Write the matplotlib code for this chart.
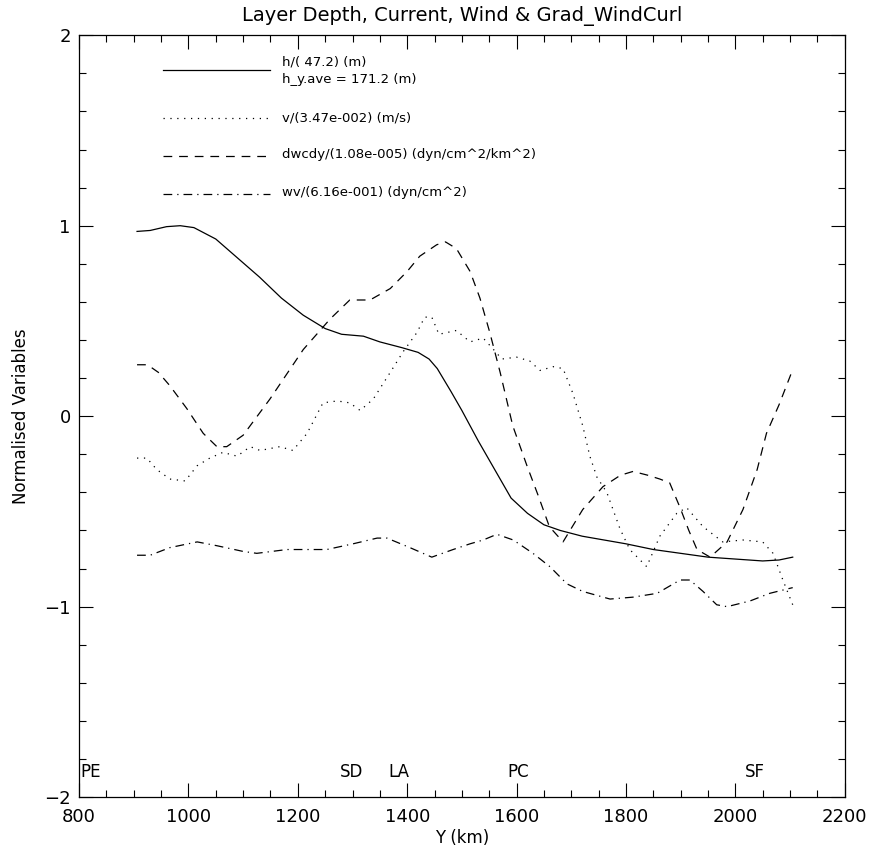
import matplotlib
matplotlib.use("Agg")
import matplotlib.pyplot as plt
from matplotlib.ticker import MultipleLocator

# layer depth h, normalised
h_x = [906, 930, 960, 985, 1010, 1050, 1090, 1130, 1170, 1210, 1250, 1280, 1320, 1350,
       1390, 1420, 1440, 1455, 1480, 1500, 1530, 1560, 1590, 1620, 1650, 1680, 1720, 1760,
       1800, 1850, 1900, 1950, 2000, 2050, 2080, 2105]
h_y = [0.97, 0.975, 0.995, 1.0, 0.99, 0.93, 0.83, 0.73, 0.62, 0.53, 0.46, 0.43, 0.42, 0.39,
       0.36, 0.335, 0.30, 0.25, 0.13, 0.03, -0.13, -0.28, -0.43, -0.51, -0.57, -0.60, -0.63,
       -0.65, -0.67, -0.70, -0.72, -0.74, -0.75, -0.76, -0.755, -0.74]

# current v, normalised
v_x = [906, 924, 942, 966, 994, 1016, 1039, 1063, 1089, 1113, 1131, 1167, 1191, 1217,
       1246, 1272, 1295, 1314, 1338, 1369, 1393, 1418, 1432, 1445, 1458, 1490, 1515, 1539,
       1561, 1573, 1600, 1624, 1643, 1667, 1685, 1703, 1721, 1734, 1747, 1765, 1789, 1807,
       1838, 1862, 1893, 1911, 1941, 1977, 2014, 2050, 2069, 2087, 2105]
v_y = [-0.22, -0.22, -0.28, -0.33, -0.34, -0.26, -0.22, -0.19, -0.21, -0.16, -0.18, -0.16,
       -0.18, -0.09, 0.07, 0.08, 0.07, 0.03, 0.09, 0.23, 0.34, 0.44, 0.52, 0.52, 0.43, 0.45,
       0.39, 0.41, 0.34, 0.30, 0.31, 0.29, 0.24, 0.26, 0.25, 0.12, -0.05, -0.21, -0.32, -0.40,
       -0.59, -0.70, -0.79, -0.63, -0.51, -0.48, -0.58, -0.66, -0.65, -0.66, -0.72, -0.86,
       -0.99]

# gradient of wind curl, normalised
dw_x = [906, 925, 945, 966, 997, 1027, 1052, 1070, 1100, 1149, 1210, 1259, 1295, 1332,
        1369, 1400, 1423, 1454, 1470, 1490, 1515, 1533, 1551, 1570, 1593, 1619, 1640,
        1660, 1685, 1721, 1758, 1790, 1813, 1840, 1862, 1880, 1899, 1915, 1930, 1954,
        1985, 2014, 2040, 2057, 2080, 2103]
dw_y = [0.27, 0.27, 0.23, 0.16, 0.04, -0.09, -0.16, -0.16, -0.10, 0.09, 0.35, 0.51, 0.61,
        0.61, 0.67, 0.76, 0.84, 0.90, 0.915, 0.88, 0.76, 0.62, 0.44, 0.23, -0.05, -0.26,
        -0.42, -0.58, -0.66, -0.49, -0.37, -0.31, -0.29, -0.31, -0.33, -0.35, -0.48,
        -0.60, -0.70, -0.74, -0.66, -0.49, -0.28, -0.09, 0.06, 0.23]

# wind stress, normalised
wv_x = [906, 930, 966, 1016, 1052, 1100, 1125, 1180, 1222, 1253, 1301, 1345, 1363, 1405,
        1445, 1484, 1515, 1539, 1564, 1594, 1630, 1661, 1692, 1721, 1771, 1813, 1857,
        1899, 1917, 1941, 1966, 1985, 2027, 2063, 2105]
wv_y = [-0.73, -0.73, -0.69, -0.66, -0.68, -0.71, -0.72, -0.70, -0.70, -0.70, -0.67,
        -0.64, -0.64, -0.69, -0.74, -0.70, -0.67, -0.65, -0.62, -0.65, -0.72, -0.79,
        -0.88, -0.92, -0.96, -0.95, -0.93, -0.86, -0.86, -0.92, -0.99, -1.0, -0.97,
        -0.93, -0.90]

places = ["PE", "SD", "LA", "PC", "SF"]
place_x = [802, 1277, 1365, 1584, 2018]

legend_lines = ["h/( 47.2) (m)", "v/(3.47e-002) (m/s)",
                "dwcdy/(1.08e-005) (dyn/cm^2/km^2)", "wv/(6.16e-001) (dyn/cm^2)"]

fig = plt.figure(figsize=(8.69, 8.59), dpi=100)
ax = fig.add_axes([0.091, 0.072, 0.881, 0.887])

lw = 0.9
ax.plot(h_x, h_y, color="black", lw=lw, linestyle="-")
ax.plot(v_x, v_y, color="black", lw=lw, linestyle=(0, (1, 4.5)))
ax.plot(dw_x, dw_y, color="black", lw=lw, linestyle=(0, (7, 5.5)))
ax.plot(wv_x, wv_y, color="black", lw=lw, linestyle=(0, (7, 4, 1, 4)))

ax.set_xlim(800, 2200)
ax.set_ylim(-2, 2)
ax.xaxis.set_major_locator(MultipleLocator(200))
ax.xaxis.set_minor_locator(MultipleLocator(50))
ax.yaxis.set_major_locator(MultipleLocator(1))
ax.yaxis.set_minor_locator(MultipleLocator(0.2))
ax.tick_params(which="both", direction="in", top=True, right=True, width=0.8)
ax.tick_params(which="major", length=10, labelsize=13)
ax.tick_params(axis="x", which="major", pad=8)
ax.tick_params(axis="y", which="major", pad=6)
ax.tick_params(which="minor", length=5)
for s in ax.spines.values():
    s.set_linewidth(0.9)

ax.set_title("Layer Depth, Current, Wind & Grad_WindCurl", fontsize=14, pad=10)
ax.set_xlabel("Y (km)", fontsize=12, labelpad=2)
ax.set_ylabel("Normalised Variables", fontsize=12, labelpad=10)

# hand-drawn legend in the top-left corner
tr = ax.transAxes
styles = ["-", (0, (1, 4.5)), (0, (7, 5.5)), (0, (7, 4, 1, 4))]
line_y = [0.954, 0.891, 0.842, 0.792]
text_y = [0.965, 0.891, 0.843, 0.794]
for ls, ly, ty, lab in zip(styles, line_y, text_y, legend_lines):
    ax.plot([0.110, 0.249], [ly, ly], transform=tr, color="black", lw=lw, linestyle=ls)
    ax.text(0.265, ty, lab, transform=tr, fontsize=9.5, va="center", ha="left")
ax.text(0.265, 0.942, "h_y.ave = 171.2 (m)", transform=tr, fontsize=9.5, va="center", ha="left")

for name, px in zip(places, place_x):
    ax.text(px, -1.87, name, fontsize=12, ha="left", va="center")

fig.savefig("out.png", dpi=100)
